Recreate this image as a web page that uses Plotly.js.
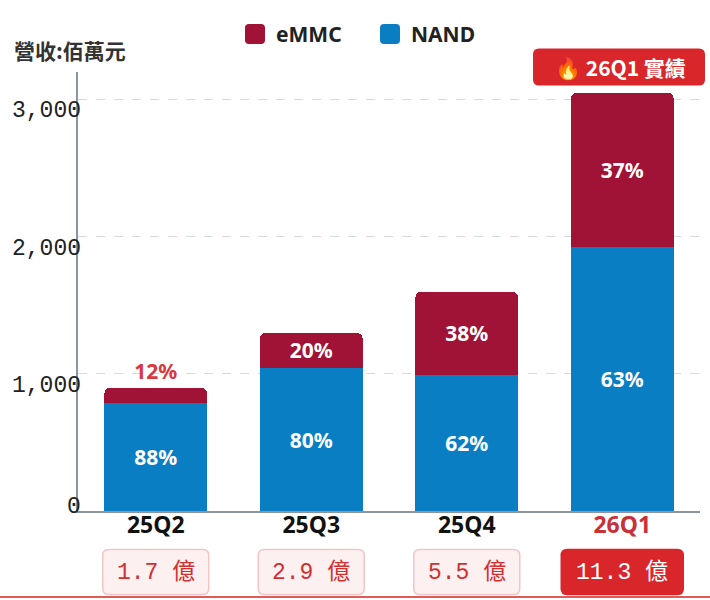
<!DOCTYPE html>
<html>
<head>
<meta charset="utf-8">
<script src="https://cdn.plot.ly/plotly-3.0.1.min.js"></script>
<style>
  body { margin: 0; background: #fff; }
  #chart { width: 710px; height: 600px; }
</style>
</head>
<body>
<div id="chart"></div>
<script>
// data (revenue, millions)
var quarters = ['25Q2', '25Q3', '25Q4', '26Q1'];
var nandRev = [790, 1040, 995, 1925];
var emmcRev = [110, 260, 605, 1125];
var nandPct = ['88%', '80%', '62%', '63%'];
var emmcPct = ['12%', '20%', '38%', '37%'];
var profitText = ['1.7 億', '2.9 億', '5.5 億', '11.3 億'];
var yTickVals = [0, 1000, 2000, 3000];
var yTickText = ['0', '1,000', '2,000', '3,000'];
var seriesNames = ['eMMC', 'NAND'];
var seriesColors = ['#A01236', '#0A7EC2'];

var red = '#D9262B';
var monoFont = 'Liberation Mono, Noto Sans CJK TC, monospace';
var sansFont = 'Noto Sans, Noto Sans CJK TC, sans-serif';

// plot box in pixels, used to place the extras around it
var L = 78, R = 10, T = 72, B = 89;
var plotW = 710 - L - R, plotH = 600 - T - B;
function px2x(px) { return (px - L) / plotW; }
function px2y(py) { return (600 - B - py) / plotH; }

function roundRect(w, h, r) {
  var x = w / 2, y = h / 2;
  return 'M' + (-x + r) + ',' + (-y) + ' L' + (x - r) + ',' + (-y) +
    ' Q' + x + ',' + (-y) + ' ' + x + ',' + (-y + r) +
    ' L' + x + ',' + (y - r) + ' Q' + x + ',' + y + ' ' + (x - r) + ',' + y +
    ' L' + (-x + r) + ',' + y + ' Q' + (-x) + ',' + y + ' ' + (-x) + ',' + (y - r) +
    ' L' + (-x) + ',' + (-y + r) + ' Q' + (-x) + ',' + (-y) + ' ' + (-x + r) + ',' + (-y) + ' Z';
}

var nandTrace = {
  x: quarters,
  y: nandRev,
  name: seriesNames[1],
  type: 'bar',
  marker: {color: seriesColors[1]},
  text: nandPct,
  textposition: 'inside',
  insidetextanchor: 'middle',
  insidetextfont: {family: sansFont, size: 21, color: '#fff', weight: 'bold'},
  hoverinfo: 'x+y'
};

var emmcTrace = {
  x: quarters,
  y: emmcRev,
  name: seriesNames[0],
  type: 'bar',
  marker: {color: seriesColors[0]},
  text: emmcPct,
  textposition: ['outside', 'inside', 'inside', 'inside'],
  insidetextanchor: 'middle',
  insidetextfont: {family: sansFont, size: 21, color: '#fff', weight: 'bold'},
  outsidetextfont: {family: sansFont, size: 21, color: '#D9383E', weight: 'bold'},
  cliponaxis: false,
  hoverinfo: 'x+y'
};

// x tick labels, last quarter in red
var xTickText = quarters.map(function (q, i) {
  return i == quarters.length - 1 ? '<span style="color:#C8303A">' + q + '</span>' : q;
});

var annotations = [];
var shapes = [];

// y tick labels sit a bit under their grid lines
for (var i = 0; i < yTickVals.length; i++) {
  annotations.push({
    xref: 'paper', yref: 'y', x: 0, y: yTickVals[i],
    xanchor: 'right', yanchor: 'middle', xshift: 5,
    yshift: yTickVals[i] == 0 ? 4 : -12,
    text: yTickText[i], showarrow: false,
    font: {family: monoFont, size: 23, color: '#222'}
  });
}

// legend drawn by hand, big rounded swatches
var legendSwatchX = [255, 390];
for (var i = 0; i < seriesNames.length; i++) {
  shapes.push({
    type: 'path', xref: 'paper', yref: 'paper',
    xsizemode: 'pixel', ysizemode: 'pixel',
    xanchor: px2x(legendSwatchX[i]), yanchor: px2y(34),
    path: roundRect(20, 20, 4),
    fillcolor: seriesColors[i], line: {width: 0}
  });
  annotations.push({
    xref: 'paper', yref: 'paper', x: px2x(legendSwatchX[i] + 19), y: px2y(34),
    xanchor: 'left', yanchor: 'middle',
    text: seriesNames[i], showarrow: false,
    font: {family: sansFont, size: 21, color: '#222', weight: 'bold'}
  });
}

// profit boxes under each quarter
for (var i = 0; i < quarters.length; i++) {
  var last = i == quarters.length - 1;
  shapes.push({
    type: 'path', xref: 'x', yref: 'paper',
    xsizemode: 'pixel', ysizemode: 'pixel',
    xanchor: i, yanchor: px2y(572),
    path: roundRect(last ? 122 : 106, 45, 6),
    fillcolor: last ? red : '#FDF0F0',
    line: {color: last ? red : '#F2C6C6', width: 1.5}
  });
  annotations.push({
    xref: 'x', yref: 'paper', x: quarters[i], y: px2y(572),
    xanchor: 'center', yanchor: 'middle',
    text: profitText[i], showarrow: false,
    font: {family: monoFont, size: 23, color: last ? '#fff' : '#D03030'}
  });
}

// axis title
annotations.push({
  xref: 'paper', yref: 'paper', x: px2x(12), y: px2y(50),
  xanchor: 'left', yanchor: 'middle',
  text: '營收:佰萬元', showarrow: false,
  font: {family: 'Noto Sans CJK TC, sans-serif', size: 21, color: '#333', weight: 'bold'}
});

// badge above the last bar
shapes.push({
  type: 'path', xref: 'paper', yref: 'paper',
  xsizemode: 'pixel', ysizemode: 'pixel',
  xanchor: px2x(619), yanchor: px2y(67),
  path: roundRect(172, 37, 6),
  fillcolor: red, line: {width: 0}
});
annotations.push({
  xref: 'paper', yref: 'paper', x: px2x(620), y: px2y(67),
  xanchor: 'center', yanchor: 'middle',
  text: '🔥 26Q1 實績', showarrow: false,
  font: {family: 'Noto Sans CJK TC, sans-serif', size: 21, color: '#fff', weight: 'bold'}
});

// thin red rule along the bottom
shapes.push({
  type: 'line', xref: 'paper', yref: 'paper',
  x0: px2x(0), x1: px2x(710), y0: px2y(597), y1: px2y(597),
  line: {color: '#E05A5A', width: 2}
});

var layout = {
  width: 710,
  height: 600,
  margin: {l: L, r: R, t: T, b: B},
  paper_bgcolor: '#fff',
  plot_bgcolor: '#fff',
  barmode: 'stack',
  bargap: 0.34,
  barcornerradius: 6,
  showlegend: false,
  xaxis: {
    tickvals: quarters,
    ticktext: xTickText,
    tickfont: {family: sansFont, size: 23, color: '#111', weight: 'bold'},
    ticklabelstandoff: -8,
    showline: true, linecolor: '#8C96A3', linewidth: 2,
    showgrid: false, ticks: '', fixedrange: true
  },
  yaxis: {
    range: [0, 3200],
    tickvals: yTickVals,
    showticklabels: false,
    showline: true, linecolor: '#8C96A3', linewidth: 2,
    gridcolor: '#D5DAE2', griddash: 'dash', gridwidth: 1,
    zeroline: false, ticks: '', fixedrange: true
  },
  annotations: annotations,
  shapes: shapes
};

Plotly.newPlot('chart', [nandTrace, emmcTrace], layout, {displayModeBar: false, staticPlot: true});
</script>
</body>
</html>
